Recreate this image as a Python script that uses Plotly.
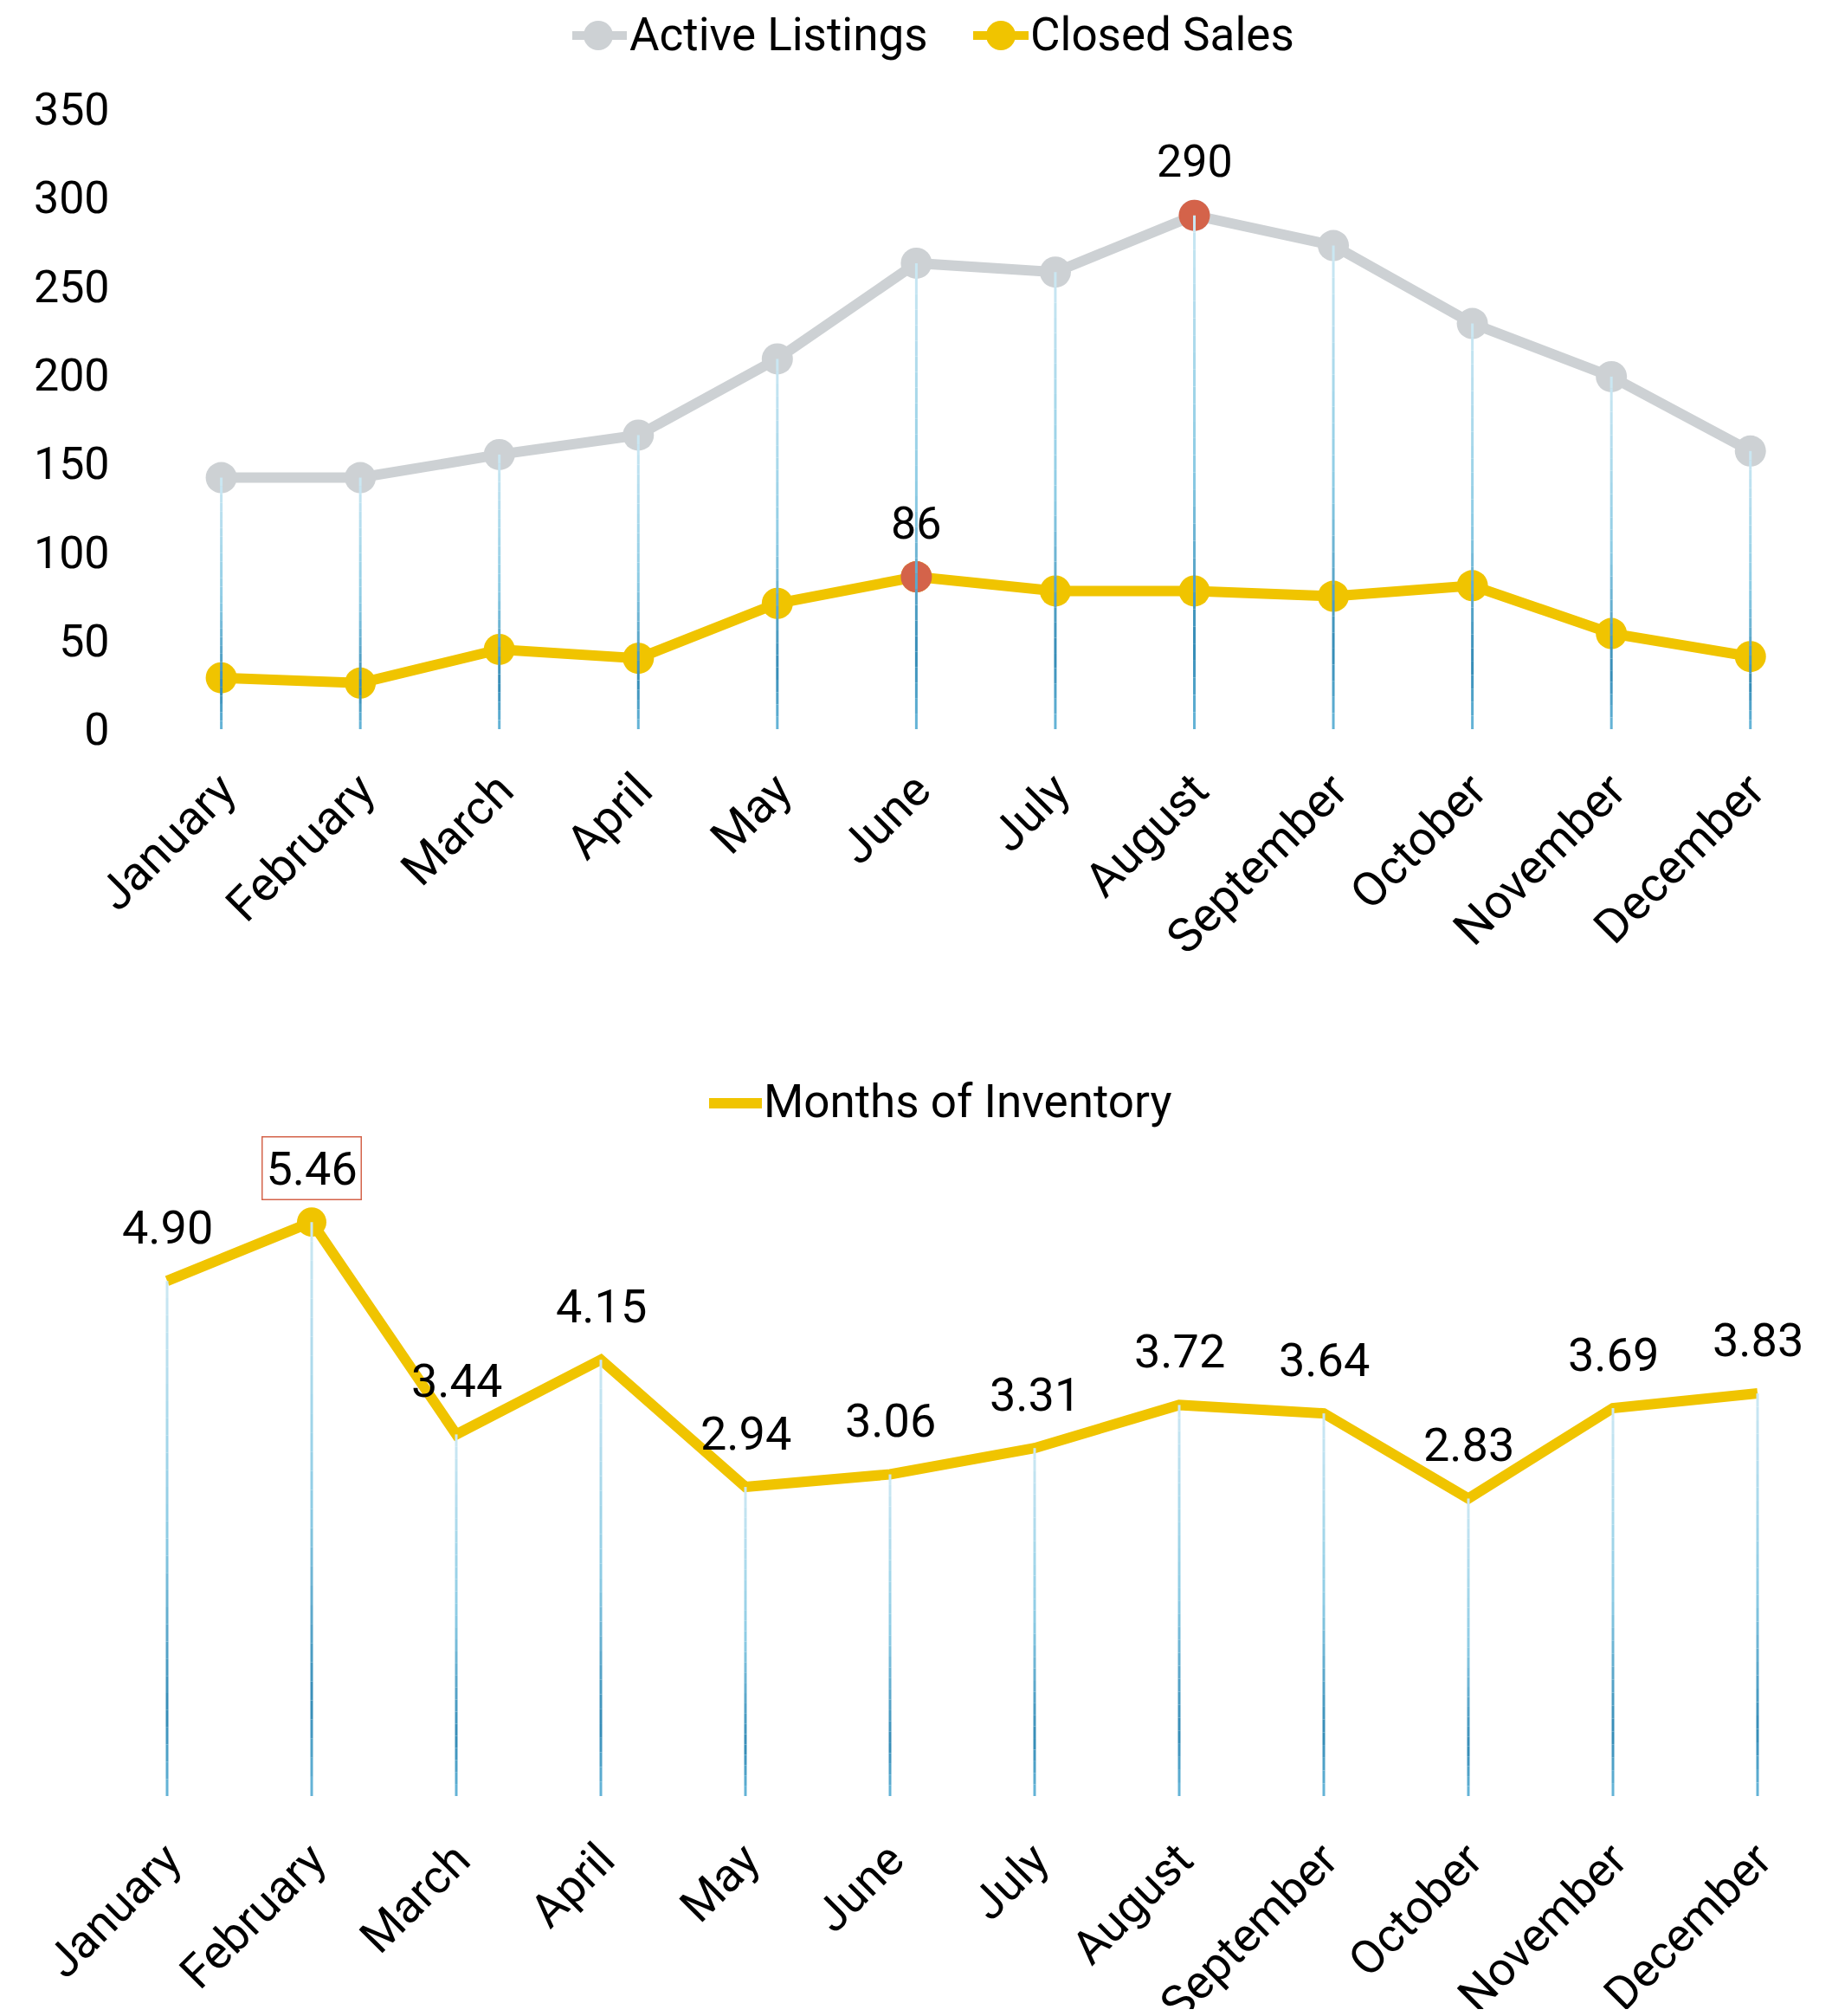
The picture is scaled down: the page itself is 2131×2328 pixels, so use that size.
import plotly.graph_objects as go

months = ["January", "February", "March", "April", "May", "June", "July",
          "August", "September", "October", "November", "December"]
active_listings = [142, 142, 155, 166, 209, 263, 258, 290, 273, 229, 199, 157]
closed_sales = [29, 26, 45, 40, 71, 86, 78, 78, 75, 81, 54, 41]
months_inventory = [4.90, 5.46, 3.44, 4.15, 2.94, 3.06, 3.31, 3.72, 3.64, 2.83, 3.69, 3.83]
y_ticks_top = [0, 50, 100, 150, 200, 250, 300, 350]

GRAY = "#cdd1d4"
YELLOW = "#f0c400"
RED = "#d4634a"
FONT = "Roboto"
PAGE_W, PAGE_H = 2131, 2328
OFF = 8  # browser body margin
W, H = PAGE_W - 2 * OFF, PAGE_H - 2 * OFF


def px_x(x):
    return (x - OFF) / W


def px_y(y):
    return 1 - (y - OFF) / H


# gradient stops for the drop lines (fraction from top of line -> rgb)
stops = [(0.0, (204, 232, 243)), (0.5, (140, 203, 228)), (0.84, (52, 139, 182)), (1.0, (106, 184, 218))]


def grad_color(t):
    for (t0, c0), (t1, c1) in zip(stops[:-1], stops[1:]):
        if t0 <= t <= t1:
            f = (t - t0) / (t1 - t0) if t1 > t0 else 0
            c = [round(a + (b - a) * f) for a, b in zip(c0, c1)]
            return f"rgb({c[0]},{c[1]},{c[2]})"
    return f"rgb{stops[-1][1]}"


def drop_traces(values, xaxis, yaxis, n=30):
    traces = []
    for k in range(n):
        xs, ys = [], []
        for m, v in zip(months, values):
            xs += [m, m, None]
            ys += [v * (1 - k / n), v * (1 - (k + 1) / n), None]
        traces.append(go.Scatter(
            x=xs, y=ys, mode="lines", xaxis=xaxis, yaxis=yaxis,
            line=dict(color=grad_color((k + 0.5) / n), width=3),
            showlegend=False, hoverinfo="skip"))
    return traces


fig = go.Figure()

# ---- top chart ----
fig.add_trace(go.Scatter(x=months, y=active_listings, name="Active Listings",
                         mode="lines+markers", xaxis="x", yaxis="y",
                         line=dict(color=GRAY, width=12),
                         marker=dict(color=GRAY, size=36), showlegend=False))
fig.add_trace(go.Scatter(x=months, y=closed_sales, name="Closed Sales",
                         mode="lines+markers", xaxis="x", yaxis="y",
                         line=dict(color=YELLOW, width=12),
                         marker=dict(color=YELLOW, size=36), showlegend=False))

ia = active_listings.index(max(active_listings))
ic = closed_sales.index(max(closed_sales))
fig.add_trace(go.Scatter(x=[months[ia], months[ic]],
                         y=[active_listings[ia], closed_sales[ic]],
                         mode="markers", xaxis="x", yaxis="y",
                         marker=dict(color=RED, size=36),
                         showlegend=False, hoverinfo="skip"))
for t in drop_traces(active_listings, "x", "y"):
    fig.add_trace(t)

# ---- bottom chart ----
fig.add_trace(go.Scatter(x=months, y=months_inventory, name="Months of Inventory",
                         mode="lines", xaxis="x2", yaxis="y2",
                         line=dict(color=YELLOW, width=12), showlegend=False))
im = months_inventory.index(max(months_inventory))
fig.add_trace(go.Scatter(x=[months[im]], y=[months_inventory[im]], mode="markers",
                         xaxis="x2", yaxis="y2", marker=dict(color=YELLOW, size=34),
                         showlegend=False, hoverinfo="skip"))
for t in drop_traces(months_inventory, "x2", "y2"):
    fig.add_trace(t)

annotations = [
    dict(x=months[ia], y=active_listings[ia], xref="x", yref="y", text=str(active_listings[ia]),
         showarrow=False, yshift=62, font=dict(family=FONT, size=52, color="#000")),
    dict(x=months[ic], y=closed_sales[ic], xref="x", yref="y", text=str(closed_sales[ic]),
         showarrow=False, yshift=62, font=dict(family=FONT, size=52, color="#000")),
]
for i, (m, v) in enumerate(zip(months, months_inventory)):
    a = dict(x=m, y=v, xref="x2", yref="y2", text=f"{v:.2f}", showarrow=False, yshift=62,
             font=dict(family=FONT, size=54, color="#000"))
    if i == im:
        a.update(bordercolor=RED, borderwidth=1.5, borderpad=4)
    annotations.append(a)

# ---- custom legends (line + marker symbols) ----
shapes = []
legend_items = [
    # (name, color, line x0, line x1, y, marker center x or None, text x, text y, font size, line w)
    ("Active Listings", GRAY, 661, 724, 41, 691, 725, 40, 53, 10),
    ("Closed Sales", YELLOW, 1124, 1188, 41, 1156, 1188, 40, 53, 10),
    ("Months of Inventory", YELLOW, 819, 880, 1274, None, 880, 1272, 53, 12),
]
for name, col, lx0, lx1, ly, mcx, tx, ty, fs, lw in legend_items:
    shapes.append(dict(type="line", xref="paper", yref="paper",
                       x0=px_x(lx0), x1=px_x(lx1), y0=px_y(ly), y1=px_y(ly),
                       line=dict(color=col, width=lw)))
    if mcx is not None:
        r = 17
        shapes.append(dict(type="circle", xref="paper", yref="paper",
                           x0=px_x(mcx - r), x1=px_x(mcx + r), y0=px_y(ly + r), y1=px_y(ly - r),
                           fillcolor=col, line=dict(width=0)))
    annotations.append(dict(xref="paper", yref="paper", x=px_x(tx), y=px_y(ty), text=name,
                            showarrow=False, xanchor="left", yanchor="middle",
                            font=dict(family=FONT, size=fs, color="#000")))

fig.update_layout(
    width=W, height=H,
    margin=dict(l=0, r=0, t=0, b=0),
    paper_bgcolor="white", plot_bgcolor="white",
    font=dict(family=FONT, color="#000"),
    annotations=annotations,
    shapes=shapes,
    showlegend=False,
    xaxis=dict(domain=[px_x(140), px_x(2102)], range=[-0.72, 11.5], anchor="y",
               showgrid=False, zeroline=False, showline=False,
               ticks="outside", ticklen=15, tickcolor="rgba(0,0,0,0)",
               tickangle=-45, tickfont=dict(family=FONT, size=55, color="#000"),
               automargin=False),
    yaxis=dict(domain=[px_y(842), px_y(126)], range=[0, 350], anchor="x",
               tickvals=y_ticks_top, showgrid=False, zeroline=False, showline=False,
               ticks="outside", ticklen=2, tickcolor="rgba(0,0,0,0)",
               tickfont=dict(family=FONT, size=52, color="#000"), automargin=False),
    xaxis2=dict(domain=[px_x(109.5), px_x(2113.5)], range=[-0.5, 11.5], anchor="y2",
                showgrid=False, zeroline=False, showline=False,
                ticks="outside", ticklen=19, tickcolor="rgba(0,0,0,0)",
                tickangle=-45, tickfont=dict(family=FONT, size=54, color="#000"),
                automargin=False),
    yaxis2=dict(domain=[px_y(2074), px_y(1345.6)], range=[0, 6], anchor="x2",
                visible=False),
)

fig.write_html("out.html")
